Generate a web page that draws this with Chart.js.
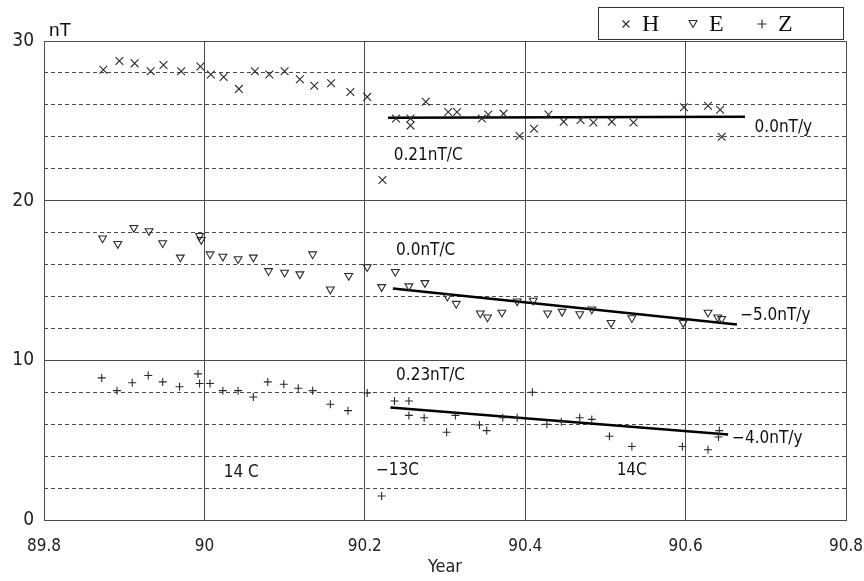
<!DOCTYPE html>
<html>
<head>
<meta charset="utf-8">
<script src="https://cdn.jsdelivr.net/npm/chart.js@4"></script>
<style>
  body { margin: 0; background: #fff; }
  #wrap { width: 864px; height: 581px; }
</style>
</head>
<body>
<div id="wrap"><canvas id="chart"></canvas></div>
<script>
// H component (x marks)
const hYears = [89.874, 89.894, 89.913, 89.933, 89.949, 89.971, 89.995, 90.008, 90.024, 90.043,
  90.063, 90.081, 90.100, 90.119, 90.137, 90.158, 90.182, 90.203, 90.222, 90.239,
  90.257, 90.257, 90.276, 90.304, 90.315, 90.346, 90.354, 90.373, 90.393, 90.411,
  90.429, 90.448, 90.469, 90.485, 90.508, 90.535, 90.598, 90.628, 90.643, 90.645];
const hValues = [28.2, 28.75, 28.6, 28.1, 28.5, 28.1, 28.4, 27.9, 27.75, 27.0,
  28.1, 27.9, 28.1, 27.6, 27.2, 27.35, 26.8, 26.5, 21.3, 25.15,
  25.15, 24.7, 26.2, 25.55, 25.55, 25.15, 25.4, 25.45, 24.05, 24.5,
  25.4, 24.95, 25.05, 24.9, 24.95, 24.9, 25.85, 25.95, 25.7, 24.0];

// E component (triangles)
const eYears = [89.873, 89.892, 89.912, 89.931, 89.948, 89.970, 89.994, 89.996, 90.007, 90.023,
  90.042, 90.061, 90.080, 90.100, 90.119, 90.135, 90.157, 90.180, 90.203, 90.221,
  90.238, 90.255, 90.275, 90.303, 90.314, 90.344, 90.353, 90.371, 90.390, 90.410,
  90.428, 90.446, 90.468, 90.483, 90.507, 90.533, 90.597, 90.628, 90.640, 90.645];
const eValues = [17.65, 17.3, 18.3, 18.1, 17.35, 16.45, 17.8, 17.55, 16.65, 16.5,
  16.35, 16.45, 15.6, 15.5, 15.4, 16.65, 14.45, 15.3, 15.85, 14.6,
  15.55, 14.65, 14.85, 14.0, 13.55, 12.95, 12.7, 13.0, 13.7, 13.75,
  12.95, 13.05, 12.9, 13.2, 12.35, 12.65, 12.35, 13.0, 12.7, 12.6];

// Z component (plus marks)
const zYears = [89.872, 89.891, 89.910, 89.930, 89.948, 89.969, 89.992, 89.994, 90.007, 90.023,
  90.042, 90.061, 90.079, 90.099, 90.117, 90.135, 90.157, 90.179, 90.203, 90.221,
  90.237, 90.255, 90.255, 90.274, 90.302, 90.313, 90.343, 90.352, 90.372, 90.390,
  90.409, 90.427, 90.445, 90.468, 90.483, 90.505, 90.533, 90.596, 90.628, 90.641, 90.642];
const zValues = [8.9, 8.1, 8.6, 9.05, 8.65, 8.35, 9.15, 8.55, 8.55, 8.1,
  8.1, 7.7, 8.65, 8.5, 8.25, 8.1, 7.25, 6.85, 7.95, 1.5,
  7.45, 7.45, 6.55, 6.4, 5.5, 6.55, 5.95, 5.6, 6.4, 6.4,
  8.0, 6.0, 6.15, 6.4, 6.3, 5.25, 4.6, 4.6, 4.4, 5.2, 5.6];

// trend lines
const hFitYears = [90.229, 90.674];
const hFitValues = [25.2, 25.25];
const eFitYears = [90.235, 90.664];
const eFitValues = [14.5, 12.25];
const zFitYears = [90.232, 90.653];
const zFitValues = [7.05, 5.35];

// text notes: label, year, value
const noteLabels = ['0.21nT/C', '0.0nT/C', '0.23nT/C', '14 C', '\u221213C', '14C', '0.0nT/y', '\u22125.0nT/y', '\u22124.0nT/y'];
const noteYears = [90.236, 90.239, 90.239, 90.024, 90.214, 90.514, 90.686, 90.668, 90.658];
const noteValues = [22.8, 16.9, 9.05, 3.0, 3.1, 3.1, 24.55, 12.8, 5.1];

const legendNames = ['H', 'E', 'Z'];

const pts = (xs, ys) => xs.map((x, i) => ({ x: x, y: ys[i] }));

const ink = '#2a2a2a';
const gridInk = '#4a4a4a';
const fontFamily = "'Liberation Sans Narrow', 'DejaVu Sans Condensed', 'Liberation Sans', sans-serif";
const tickFont = { family: fontFamily, size: 19 };
const xTickFont = { family: fontFamily, size: 17 };
const noteFont = "17px 'DejaVu Sans Condensed', 'DejaVu Sans', sans-serif";

// notes, "nT" unit and the boxed legend
const extras = {
  id: 'extras',
  afterDraw(chart) {
    const ctx = chart.ctx;
    const xs = chart.scales.x, ys = chart.scales.y;
    const area = chart.chartArea;
    ctx.save();
    ctx.fillStyle = '#111';
    ctx.font = noteFont;
    ctx.textBaseline = 'middle';
    ctx.textAlign = 'left';
    noteLabels.forEach((t, i) => {
      ctx.fillText(t, xs.getPixelForValue(noteYears[i]), ys.getPixelForValue(noteValues[i]));
    });

    ctx.font = "19px 'Liberation Sans', sans-serif";
    ctx.textBaseline = 'bottom';
    ctx.fillText('nT', area.left + 5, area.top - 1);

    // legend box
    const bx = 598, by = 7, bw = 245, bh = 32;
    ctx.strokeStyle = '#333';
    ctx.lineWidth = 1;
    ctx.strokeRect(bx + 0.5, by + 0.5, bw, bh);
    ctx.font = "24px 'Liberation Serif', serif";
    ctx.textBaseline = 'middle';
    const cy = by + bh / 2 + 1;
    const symX = [626, 693, 762];
    chart.data.datasets.slice(0, 3).forEach((ds, i) => {
      ctx.strokeStyle = ink;
      ctx.lineWidth = 1.1;
      const sx = symX[i];
      ctx.beginPath();
      if (ds.pointStyle === 'crossRot') {
        ctx.moveTo(sx - 3.5, cy - 3.5); ctx.lineTo(sx + 3.5, cy + 3.5);
        ctx.moveTo(sx + 3.5, cy - 3.5); ctx.lineTo(sx - 3.5, cy + 3.5);
      } else if (ds.pointStyle === 'triangle') {
        ctx.moveTo(sx - 4, cy - 3.5); ctx.lineTo(sx + 4, cy - 3.5); ctx.lineTo(sx, cy + 3.5); ctx.closePath();
      } else {
        ctx.moveTo(sx - 4.5, cy); ctx.lineTo(sx + 4.5, cy);
        ctx.moveTo(sx, cy - 4.5); ctx.lineTo(sx, cy + 4.5);
      }
      ctx.stroke();
      ctx.fillText(legendNames[i], sx + 16, cy + 1);
    });
    ctx.restore();
  }
};

new Chart(document.getElementById('chart'), {
  type: 'scatter',
  data: {
    datasets: [
      {
        label: 'H',
        data: pts(hYears, hValues),
        pointStyle: 'crossRot',
        pointRadius: 5.5,
        borderColor: ink,
        borderWidth: 1.1
      },
      {
        label: 'E',
        data: pts(eYears, eValues),
        pointStyle: 'triangle',
        rotation: 180,
        pointRadius: 4.5,
        backgroundColor: 'rgba(255,255,255,0)',
        borderColor: ink,
        borderWidth: 1.1
      },
      {
        label: 'Z',
        data: pts(zYears, zValues),
        pointStyle: 'cross',
        pointRadius: 4,
        borderColor: ink,
        borderWidth: 1.1
      },
      {
        label: 'H trend',
        data: pts(hFitYears, hFitValues),
        showLine: true,
        pointRadius: 0,
        borderColor: '#000',
        borderWidth: 2.5
      },
      {
        label: 'E trend',
        data: pts(eFitYears, eFitValues),
        showLine: true,
        pointRadius: 0,
        borderColor: '#000',
        borderWidth: 2.5
      },
      {
        label: 'Z trend',
        data: pts(zFitYears, zFitValues),
        showLine: true,
        pointRadius: 0,
        borderColor: '#000',
        borderWidth: 2.5
      }
    ]
  },
  options: {
    responsive: true,
    maintainAspectRatio: false,
    animation: false,
    layout: { padding: { left: 0, right: 18, top: 41, bottom: 0 } },
    plugins: {
      legend: { display: false },
      tooltip: { enabled: false }
    },
    scales: {
      x: {
        type: 'linear',
        min: 89.8,
        max: 90.8,
        afterFit: s => { s.height = 61; s.paddingLeft = 0; s.paddingRight = 0; },
        ticks: {
          stepSize: 0.2,
          padding: 16,
          color: '#222',
          font: xTickFont,
          callback: v => String(Math.round(v * 10) / 10)
        },
        grid: { color: gridInk, lineWidth: 1, drawTicks: false },
        border: { color: gridInk },
        title: {
          display: true,
          text: 'Year',
          color: '#222',
          font: { family: fontFamily, size: 18 },
          padding: { top: 0, bottom: 3 }
        }
      },
      yMinor: {
        type: 'linear',
        position: 'left',
        min: 0,
        max: 30,
        afterFit: s => { s.width = 0; },
        ticks: { display: false, stepSize: 2 },
        grid: { color: gridInk, lineWidth: 1, drawTicks: false },
        border: { display: false, dash: [4, 3] }
      },
      y: {
        type: 'linear',
        position: 'left',
        min: 0,
        max: 30,
        afterFit: s => { s.width = 44; },
        ticks: { stepSize: 10, padding: 10, color: '#222', font: tickFont },
        grid: { color: gridInk, lineWidth: 1, drawTicks: false },
        border: { color: gridInk }
      }
    }
  },
  plugins: [extras]
});
</script>
</body>
</html>
